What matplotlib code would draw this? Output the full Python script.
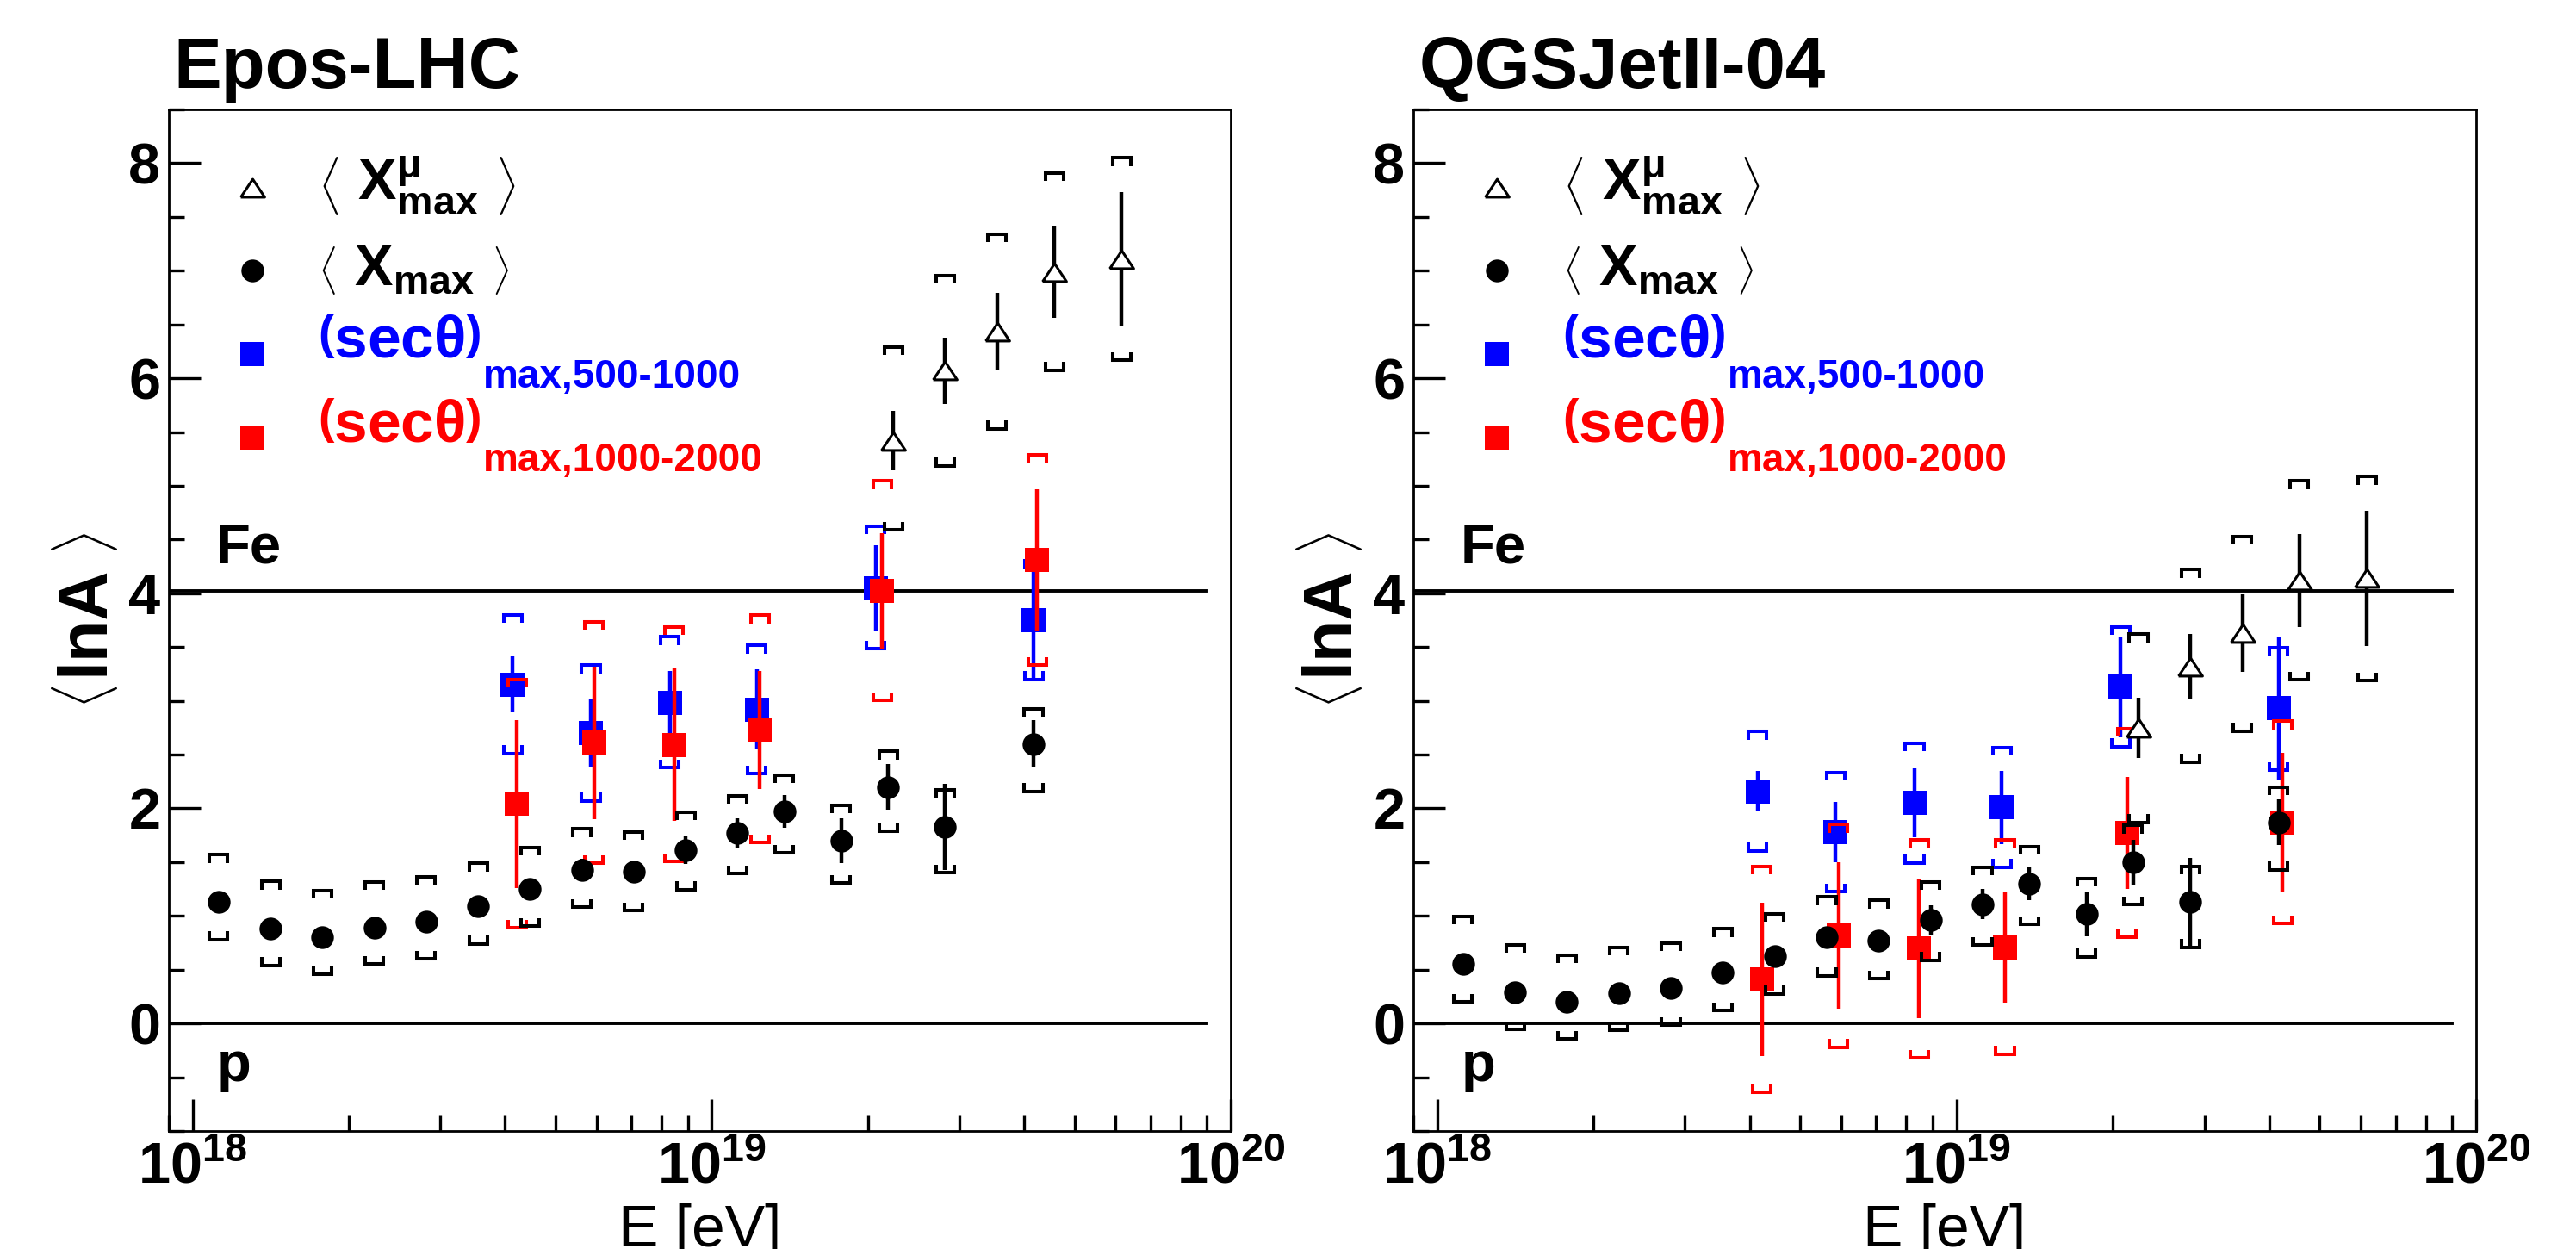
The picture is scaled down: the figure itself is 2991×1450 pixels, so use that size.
import numpy as np
import matplotlib
matplotlib.use('Agg')
import matplotlib.pyplot as plt
from matplotlib.ticker import MultipleLocator, LogLocator, FuncFormatter, NullFormatter

plt.rcParams['font.family'] = ['Liberation Sans', 'DejaVu Sans']
plt.rcParams['font.weight'] = 'bold'
plt.rcParams['mathtext.fontset'] = 'custom'
plt.rcParams['mathtext.rm'] = 'Liberation Sans:bold'
plt.rcParams['mathtext.bf'] = 'Liberation Sans:bold'
plt.rcParams['mathtext.it'] = 'Liberation Sans'
plt.rcParams['mathtext.default'] = 'bf'

# Energias de los bins [eV]
E_xmax = [1.122e18, 1.413e18, 1.778e18, 2.239e18, 2.818e18, 3.548e18, 4.467e18, 5.623e18,
          7.079e18, 8.913e18, 1.122e19, 1.380e19, 1.778e19, 2.188e19, 2.818e19, 4.169e19]
E_mu = [2.239e19, 2.818e19, 3.548e19, 4.571e19, 6.166e19]
E_sec1 = [4.14e18, 5.85e18, 8.30e18, 1.222e19, 2.07e19, 4.17e19]
E_sec2 = [4.22e18, 5.93e18, 8.47e18, 1.239e19, 2.13e19, 4.24e19]

# Epos-LHC: valor, error estadistico, sistematico arriba / abajo
epos_xmax = [1.13, 0.88, 0.80, 0.89, 0.95, 1.09, 1.25, 1.43, 1.41, 1.61, 1.77, 1.97, 1.70, 2.20, 1.83, 2.60]
epos_xmax_stat = [0.04, 0.04, 0.04, 0.04, 0.05, 0.06, 0.09, 0.10, 0.10, 0.13, 0.14, 0.15, 0.21, 0.21, 0.40, 0.22]
epos_xmax_sup = [0.44, 0.44, 0.435, 0.425, 0.415, 0.40, 0.385, 0.38, 0.37, 0.355, 0.345, 0.34, 0.33, 0.33, 0.34, 0.325]
epos_xmax_sdn = [0.35, 0.34, 0.34, 0.34, 0.35, 0.35, 0.345, 0.35, 0.36, 0.365, 0.375, 0.385, 0.395, 0.41, 0.43, 0.44]

epos_mu = [5.42, 6.07, 6.43, 6.99, 7.11]
epos_mu_stat = [0.28, 0.31, 0.36, 0.43, 0.62]
epos_mu_sup = [0.87, 0.885, 0.91, 0.92, 0.94]
epos_mu_sdn = [0.83, 0.885, 0.90, 0.915, 0.94]

epos_s1 = [3.15, 2.70, 2.98, 2.92, 4.05, 3.75]
epos_s1_stat = [0.26, 0.32, 0.30, 0.37, 0.40, 0.56]
epos_s1_sup = [0.65, 0.63, 0.615, 0.595, 0.575, 0.55]
epos_s1_sdn = [0.64, 0.63, 0.60, 0.595, 0.565, 0.55]

epos_s2 = [2.04, 2.61, 2.59, 2.73, 4.02, 4.31]
epos_s2_stat = [0.78, 0.71, 0.71, 0.55, 0.54, 0.66]
epos_s2_sup = [1.16, 1.125, 1.095, 1.065, 1.025, 0.975]
epos_s2_sdn = [1.15, 1.12, 1.085, 1.05, 1.015, 0.98]

# QGSJetII-04
qgs_xmax = [0.55, 0.29, 0.20, 0.28, 0.33, 0.47, 0.63, 0.80, 0.77, 0.96, 1.11, 1.30, 1.02, 1.50, 1.13, 1.87]
qgs_xmax_stat = [0.04, 0.04, 0.04, 0.04, 0.05, 0.06, 0.09, 0.10, 0.10, 0.14, 0.14, 0.15, 0.21, 0.21, 0.41, 0.21]
qgs_xmax_sup = [0.445, 0.44, 0.435, 0.43, 0.42, 0.41, 0.39, 0.375, 0.375, 0.355, 0.345, 0.345, 0.33, 0.34, 0.33, 0.33]
qgs_xmax_sdn = [0.35, 0.345, 0.345, 0.345, 0.345, 0.35, 0.355, 0.355, 0.355, 0.37, 0.38, 0.38, 0.40, 0.395, 0.42, 0.44]

qgs_mu = [2.75, 3.32, 3.63, 4.12, 4.14]
qgs_mu_stat = [0.28, 0.30, 0.36, 0.435, 0.63]
qgs_mu_sup = [0.87, 0.90, 0.90, 0.925, 0.945]
qgs_mu_sdn = [0.88, 0.89, 0.91, 0.925, 0.95]

qgs_s1 = [2.16, 1.78, 2.05, 2.01, 3.13, 2.93]
qgs_s1_stat = [0.19, 0.28, 0.32, 0.34, 0.47, 0.67]
qgs_s1_sup = [0.555, 0.555, 0.555, 0.555, 0.555, 0.56]
qgs_s1_sdn = [0.555, 0.555, 0.555, 0.555, 0.555, 0.575]

qgs_s2 = [0.41, 0.82, 0.70, 0.71, 1.77, 1.87]
qgs_s2_stat = [0.71, 0.68, 0.65, 0.52, 0.52, 0.65]
qgs_s2_sup = [1.05, 1.03, 1.01, 0.995, 0.97, 0.94]
qgs_s2_sdn = [1.05, 1.04, 1.02, 0.995, 0.97, 0.94]

lnA_p = 0.0
lnA_fe = np.log(56)
linea_E = [9e17, 9e19]

TRI = [(-1, -0.75), (1, -0.75), (0, 0.75), (-1, -0.75)]
mk_mu = dict(marker=TRI, ms=20, mfc='white', mec='black', mew=2.2)
mk_xmax = dict(marker='o', ms=19, mfc='black', mec='black', mew=0)
mk_s1 = dict(marker='s', ms=20, mfc='blue', mec='blue', mew=0)
mk_s2 = dict(marker='s', ms=20, mfc='red', mec='red', mew=0)


# corchetes de error sistematico (estilo ROOT)
def corchetes(ax, x, y, sup, sdn, color, z):
    f = 10 ** 0.0175
    h = 0.075
    xs, ys = [], []
    for xi, yi, u, d in zip(x, y, sup, sdn):
        a, b = yi + u, yi - d
        xs += [xi / f, xi / f, xi * f, xi * f, np.nan, xi / f, xi / f, xi * f, xi * f, np.nan]
        ys += [a - h, a, a, a - h, np.nan, b + h, b, b, b + h, np.nan]
    ax.plot(xs, ys, color=color, lw=2.9, solid_joinstyle='miter', solid_capstyle='butt', zorder=z)


def serie(ax, x, y, stat, sup, sdn, color, z, mk):
    corchetes(ax, x, y, sup, sdn, color, z)
    ax.errorbar(x, y, yerr=stat, fmt='none', ecolor=color, elinewidth=3.2, capsize=0, zorder=z)
    ax.plot(x, y, ls='none', zorder=z + 0.5, **mk)


def leyenda(ax):
    xm, xt = 0.079, 0.14
    for yy, mk in zip([0.923, 0.8423, 0.7605, 0.6788], [mk_mu, mk_xmax, mk_s1, mk_s2]):
        ax.plot([xm], [yy], ls='none', transform=ax.transAxes, clip_on=False, **mk)
    ax.text(xt, 0.925, r'$\left\langle\ X^{\mathit{\mu}}_{max}\ \right\rangle$', fontsize=48,
            va='center', ha='left', transform=ax.transAxes)
    ax.text(xt, 0.8415, r'$\left\langle\ X_{max}\ \right\rangle$', fontsize=48,
            va='center', ha='left', transform=ax.transAxes)
    for yy, col, sub in [(0.772, 'blue', 'max,500-1000'), (0.690, 'red', 'max,1000-2000')]:
        t = ax.text(xt, yy, r'$\left(sec\mathit{\theta}\right)$', fontsize=50, color=col,
                    va='center', ha='left', transform=ax.transAxes)
        ax.annotate(sub, xy=(1, 0), xycoords=t, xytext=(2, -15), textcoords='offset points',
                    fontsize=33, color=col, va='baseline', ha='left')


def etiqueta_y(ax):
    # < lnA > con corchetes angulares finos y del alto de las mayusculas
    tm = ax.text(-0.079, 0.5, 'lnA', fontsize=57, rotation=90, ha='center', va='center',
                 transform=ax.transAxes)
    ax.annotate(r'$\langle$', xy=(0.5, 0), xycoords=tm, xytext=(0, -9), textcoords='offset points',
                rotation=90, fontsize=46, ha='center', va='top')
    ax.annotate(r'$\rangle$', xy=(0.5, 1), xycoords=tm, xytext=(0, 9), textcoords='offset points',
                rotation=90, fontsize=46, ha='center', va='bottom')


fig = plt.figure(figsize=(29.91, 14.50), dpi=100)
ax1 = fig.add_axes([0.06553, 0.09448, 0.41224, 0.81793])
ax2 = fig.add_axes([0.54865, 0.09448, 0.41257, 0.81793])

paneles = [
    (ax1, 'Epos-LHC', 0.0672,
     (epos_xmax, epos_xmax_stat, epos_xmax_sup, epos_xmax_sdn),
     (epos_mu, epos_mu_stat, epos_mu_sup, epos_mu_sdn),
     (epos_s1, epos_s1_stat, epos_s1_sup, epos_s1_sdn),
     (epos_s2, epos_s2_stat, epos_s2_sup, epos_s2_sdn)),
    (ax2, 'QGSJetII-04', 0.5507,
     (qgs_xmax, qgs_xmax_stat, qgs_xmax_sup, qgs_xmax_sdn),
     (qgs_mu, qgs_mu_stat, qgs_mu_sup, qgs_mu_sdn),
     (qgs_s1, qgs_s1_stat, qgs_s1_sup, qgs_s1_sdn),
     (qgs_s2, qgs_s2_stat, qgs_s2_sup, qgs_s2_sdn)),
]

for ax, titulo, xtit, xm, mu, s1, s2 in paneles:
    ax.set_xscale('log')
    ax.set_xlim(9e17, 1e20)
    ax.set_ylim(-1, 8.5)

    ax.plot(linea_E, [lnA_p, lnA_p], color='black', lw=2.8, zorder=1)
    ax.plot(linea_E, [lnA_fe, lnA_fe], color='black', lw=2.8, zorder=1)

    serie(ax, E_sec1, *s1, 'blue', 3, mk_s1)
    serie(ax, E_sec2, *s2, 'red', 4, mk_s2)
    serie(ax, E_xmax, *xm, 'black', 5, mk_xmax)
    serie(ax, E_mu, *mu, 'black', 6, mk_mu)

    ax.text(0.0446, 0.5557, 'Fe', fontsize=47, va='baseline', ha='left', transform=ax.transAxes)
    ax.text(0.0452, 0.049, 'p', fontsize=47, va='baseline', ha='left', transform=ax.transAxes)

    leyenda(ax)

    ax.yaxis.set_major_locator(MultipleLocator(2))
    ax.yaxis.set_minor_locator(MultipleLocator(0.5))
    ax.xaxis.set_major_locator(LogLocator(base=10, numticks=10))
    ax.xaxis.set_minor_locator(LogLocator(base=10, subs=np.arange(2, 10), numticks=30))
    ax.xaxis.set_major_formatter(FuncFormatter(lambda v, p: r'$10^{%d}$' % round(np.log10(v))))
    ax.xaxis.set_minor_formatter(NullFormatter())
    ax.tick_params(axis='both', which='both', direction='in', top=False, right=False, labelsize=48)
    ax.tick_params(axis='both', which='major', length=26.6, width=2.4)
    ax.tick_params(axis='both', which='minor', length=13.3, width=2.4)
    ax.tick_params(axis='x', which='major', pad=9)
    ax.tick_params(axis='y', which='major', pad=7)
    for s in ax.spines.values():
        s.set_linewidth(2.0)

    ax.set_xlabel('E [eV]', fontsize=50)
    ax.xaxis.set_label_coords(0.5, -0.071)
    etiqueta_y(ax)

    fig.text(xtit, 0.9299, titulo, fontsize=60, va='baseline', ha='left')

fig.savefig('out.png', dpi=100)
plt.close(fig)
